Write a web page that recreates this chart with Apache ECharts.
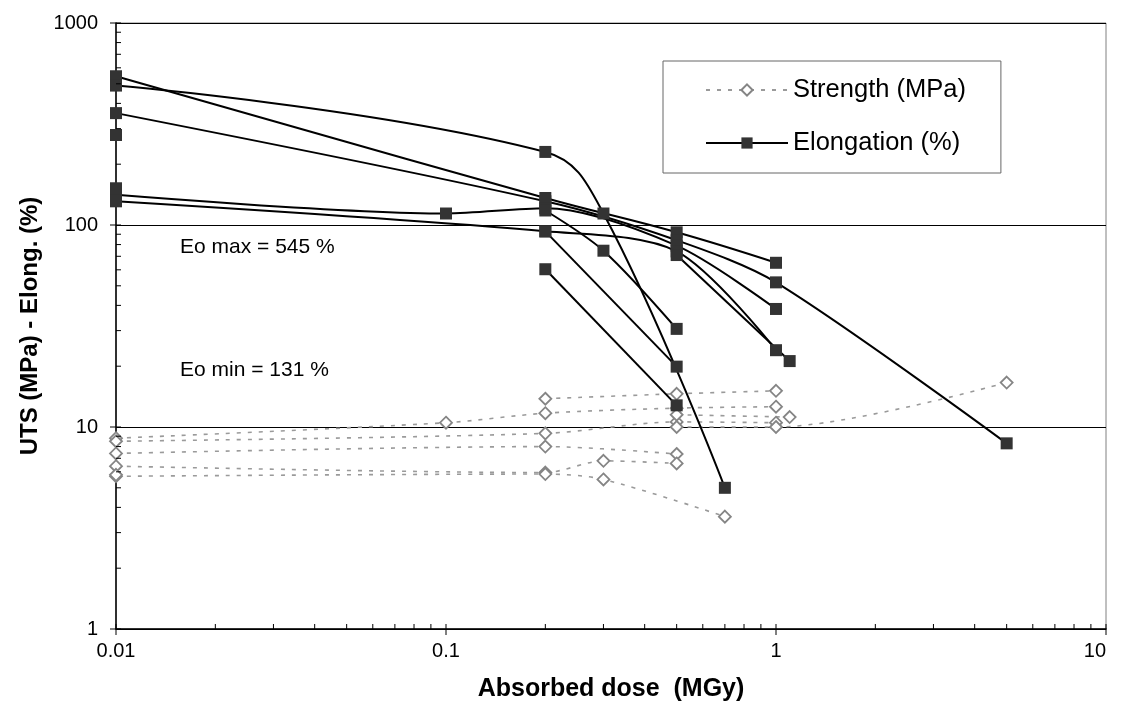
<!DOCTYPE html>
<html><head><meta charset="utf-8">
<script src="https://cdn.jsdelivr.net/npm/echarts@6/dist/echarts.min.js"></script>
<style>html,body{margin:0;padding:0;background:#fff}#c{width:1126px;height:711px}</style>
</head><body><div id="c"></div>
<script>
// ---- tick values ----
const xMajorTicks = [0.01, 0.1, 1, 10];
const yMajorTicks = [1, 10, 100, 1000];
const xMinorTicks = [0.02,0.03,0.04,0.05,0.06,0.07,0.08,0.09,0.2,0.3,0.4,0.5,0.6,0.7,0.8,0.9,2,3,4,5,6,7,8,9];
const yMinorTicks = [2,3,4,5,6,7,8,9,20,30,40,50,60,70,80,90,200,300,400,500,600,700,800,900];

// ---- Elongation (%) series: [dose MGy, value] ----
const elong1 = [[0.01,545],[0.2,136],[0.5,92],[1,65]];
const elong2 = [[0.01,490],[0.2,230],[0.3,114],[0.7,5.0]];
const elong3 = [[0.01,358],[0.2,131],[0.5,84],[1,52],[5,8.3]];
const elong4 = [[0.01,279]];
const elong5 = [[0.01,141],[0.1,114],[0.2,121],[0.5,79],[1,38.4]];
const elong6 = [[0.01,131],[0.2,93],[0.5,74],[1,24]];
const elong7 = [[0.01,152]];
const elong8 = [[0.2,118],[0.3,74.6],[0.5,30.6]];
const elong9 = [[0.2,93],[0.5,19.9]];
const elong10 = [[0.2,60.4],[0.5,12.8]];
const elong11 = [[0.5,71],[1.1,21.2]];

// ---- Strength (MPa) series ----
const str1 = [[0.01,8.8],[0.1,10.5],[0.2,11.7],[0.5,12.4],[1,12.6]];
const str2 = [[0.2,13.8],[0.5,14.6],[1,15.1]];
const str3 = [[0.01,8.5],[0.2,9.3],[0.5,10.6],[1,10.5]];
const str4 = [[0.01,7.4],[0.2,8.0],[0.5,7.35]];
const str5 = [[0.01,6.4],[0.2,5.95],[0.3,6.8],[0.5,6.6]];
const str6 = [[0.01,5.7],[0.2,5.85],[0.3,5.5],[0.7,3.6]];
const str7 = [[0.01,5.8]];
const str8 = [[0.5,10.0],[1,10.0],[5,16.6]];
const str9 = [[0.5,11.5],[1.1,11.2]];

const elongSets = [elong1,elong2,elong3,elong4,elong5,elong6,elong7,elong8,elong9,elong10,elong11];
const elongSmooth = [0.4,0.4,0.3,0.3,0.3,0.3,0.3,0.3,0.3,0.3,0.3];
const strSets = [str1,str2,str3,str4,str5,str6,str7,str8,str9];

const FONT = '"Liberation Sans", Arial, sans-serif';
const STR_NAME = 'Strength (MPa)';
const EL_NAME = 'Elongation (%)';

const series = [];
strSets.forEach(d => series.push({
  name: STR_NAME, type: 'line', data: d, smooth: 0.3, z: 3,
  symbol: 'diamond', symbolSize: 12, showSymbol: true,
  lineStyle: {color: '#9a9a9a', width: 1.6, type: [4, 7]},
  itemStyle: {color: '#fff', borderColor: '#858585', borderWidth: 1.8},
  emphasis: {disabled: true}, animation: false
}));
elongSets.forEach((d, i) => series.push({
  name: EL_NAME, type: 'line', data: d, smooth: elongSmooth[i], z: 4,
  symbol: 'rect', symbolSize: 12, showSymbol: true,
  lineStyle: {color: '#000', width: 2},
  itemStyle: {color: '#333333', borderWidth: 0},
  emphasis: {disabled: true}, animation: false
}));

function tickSeries(vals, dir, major) {
  return {
    type: 'custom', silent: true, z: 5, animation: false, clip: false,
    data: vals.map(v => [v]),
    renderItem: function (params, api) {
      const v = api.value(0);
      let shape;
      if (dir === 'x') {
        const p = api.coord([v, 1]);
        shape = {x1: p[0], y1: p[1] - 5, x2: p[0], y2: p[1] + (major ? 6 : 0)};
      } else {
        const p = api.coord([0.01, v]);
        shape = {x1: p[0] - (major ? 6 : 0), y1: p[1], x2: p[0] + 5, y2: p[1]};
      }
      return {type: 'line', shape: shape, style: {stroke: '#000', lineWidth: 1}};
    }
  };
}
series.push(tickSeries(xMinorTicks, 'x', false));
series.push(tickSeries(xMajorTicks, 'x', true));
series.push(tickSeries(yMinorTicks, 'y', false));
series.push(tickSeries(yMajorTicks, 'y', true));

const chart = echarts.init(document.getElementById('c'));
chart.setOption({
  backgroundColor: '#fff',
  animation: false,
  grid: {left: 116, right: 20, top: 23, bottom: 82, containLabel: false,
    show: true, borderColor: '#808080', borderWidth: 1},
  xAxis: {
    type: 'log', logBase: 10, min: 0.01, max: 10,
    name: 'Absorbed dose  (MGy)', nameLocation: 'middle', nameGap: 48,
    nameTextStyle: {fontFamily: FONT, fontSize: 25, fontWeight: 'bold', color: '#000'},
    axisLine: {show: true, onZero: false, lineStyle: {color: '#000', width: 1.5}},
    axisTick: {show: false}, minorTick: {show: false},
    splitLine: {show: false},
    axisLabel: {fontFamily: FONT, fontSize: 20, color: '#000', margin: 12,
      alignMaxLabel: 'right',
      formatter: v => xMajorTicks.includes(+v.toPrecision(6)) ? String(+v.toPrecision(6)) : ''}
  },
  yAxis: {
    type: 'log', logBase: 10, min: 1, max: 1000,
    name: 'UTS (MPa) - Elong. (%)', nameLocation: 'middle', nameGap: 73,
    nameTextStyle: {fontFamily: FONT, fontSize: 24, fontWeight: 'bold', color: '#000'},
    axisLine: {show: true, onZero: false, lineStyle: {color: '#000', width: 1.5}},
    axisTick: {show: false}, minorTick: {show: false},
    splitLine: {show: true, lineStyle: {color: '#000', width: 1}},
    axisLabel: {fontFamily: FONT, fontSize: 20, color: '#000', margin: 18,
      formatter: v => String(+v.toPrecision(6))}
  },
  legend: {
    data: [STR_NAME, EL_NAME],
    orient: 'vertical', left: 663, top: 61,
    padding: [16, 35, 17, 42],
    itemWidth: 82, itemHeight: 14, itemGap: 27,
    borderColor: '#666', borderWidth: 1, backgroundColor: '#fff',
    selectedMode: false,
    textStyle: {fontFamily: FONT, fontSize: 25.5, color: '#000', lineHeight: 26}
  },
  graphic: [
    {type: 'text', left: 180, top: 237, style: {text: 'Eo max = 545 %', font: '21px ' + FONT, fill: '#000'}},
    {type: 'text', left: 180, top: 360, style: {text: 'Eo min = 131 %', font: '21px ' + FONT, fill: '#000'}}
  ],
  series: series
});
</script></body></html>
